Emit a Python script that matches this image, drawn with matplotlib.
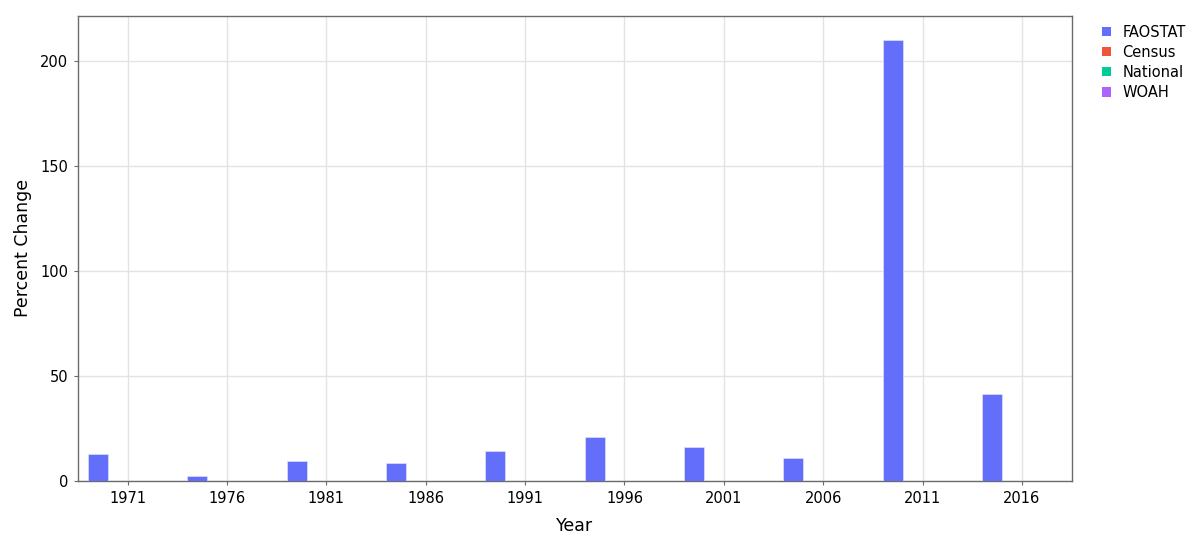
import numpy as np
import matplotlib.pyplot as plt
from matplotlib.patches import Patch

years = [1971, 1976, 1981, 1986, 1991, 1996, 2001, 2006, 2011, 2016]
faostat = [13.0, 2.4, 9.4, 8.4, 14.4, 20.8, 16.3, 11.1, 210.0, 41.6]
census = []
national = []
woah = []

series_names = ["FAOSTAT", "Census", "National", "WOAH"]
colors = ["#636EFA", "#EF553B", "#00CC96", "#AB63FA"]

fig = plt.figure(figsize=(12, 5.44), dpi=100)
ax = fig.add_axes([0.065, 0.116, 0.828, 0.855])

# grouped bars, 4 slots per year like plotly's barmode="group"
bar_w = 1.0
offsets = [-1.5, -0.5, 0.5, 1.5]
all_vals = [faostat, census, national, woah]
for vals, off, col, name in zip(all_vals, offsets, colors, series_names):
    xs = np.array(years[:len(vals)], dtype=float) + off
    ax.bar(xs, vals, width=bar_w, color=col, edgecolor="#e8eaff", linewidth=0.4,
           label=name, zorder=3)

ax.set_xlim(1968.5, 2018.5)
ax.set_ylim(0, 221.4)
ax.set_xticks(years)
ax.set_yticks([0, 50, 100, 150, 200])
ax.grid(True, color="#e3e3e3", linewidth=1, zorder=0)
for s in ax.spines.values():
    s.set_color("#6b6b6b")
    s.set_linewidth(1)
ax.tick_params(axis="both", labelsize=10.5, color="#6b6b6b", length=3, pad=4)

ax.set_xlabel("Year", fontsize=12.5, labelpad=8)
ax.set_ylabel("Percent Change", fontsize=12.5, labelpad=6)

handles = [Patch(facecolor=c, edgecolor="none") for c in colors]
ax.legend(handles, series_names, loc="upper left", bbox_to_anchor=(1.016, 1.012),
          frameon=False, fontsize=10.5, handlelength=0.6, handleheight=0.6,
          handletextpad=0.8, labelspacing=0.35, borderaxespad=0.6)

plt.savefig("out.png", dpi=100)
